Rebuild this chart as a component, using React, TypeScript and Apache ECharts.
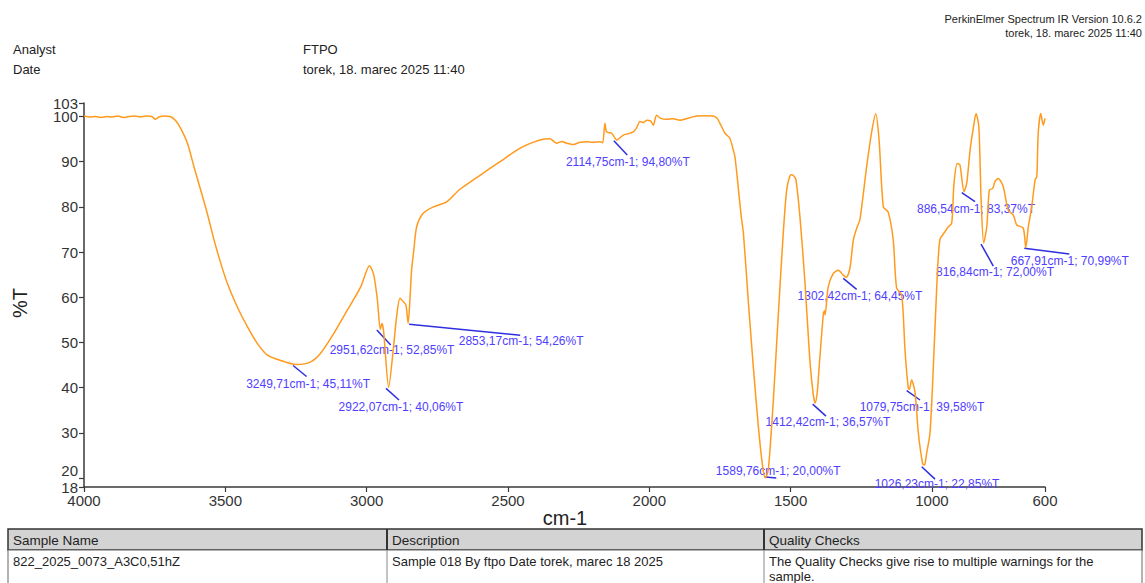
import React, { useEffect, useRef } from "react";
import * as echarts from "echarts";

// Spectrum: [wavenumber cm-1, %T]
const SPECTRUM: [number, number][] = [
  [4000, 100.1], [3980, 99.9], [3960, 100.0], [3940, 99.8], [3920, 100.0], [3900, 99.9],
  [3880, 100.1], [3860, 99.8], [3840, 100.0], [3820, 100.1], [3800, 99.9], [3780, 100.1],
  [3760, 100.0], [3748, 99.4], [3735, 99.9], [3715, 100.1], [3695, 100.0], [3676, 99.1],
  [3658, 97.4], [3634, 94.1], [3611, 88.9], [3587, 83.7], [3564, 78.6], [3540, 72.7],
  [3516, 67.5], [3493, 63.1], [3458, 57.9], [3422, 53.5], [3387, 49.8], [3351, 47.2],
  [3304, 46.0], [3249.71, 45.11], [3198, 45.7], [3163, 47.6], [3116, 52.0], [3068, 57.2],
  [3021, 62.3], [2990, 67.0], [2975, 65.0], [2962, 59.4], [2951.62, 52.85], [2946, 54.2],
  [2940, 52.5], [2922.07, 40.06], [2906, 48.3], [2894, 55.7], [2882, 59.8], [2870, 59.0],
  [2861, 58.3], [2853.17, 54.26], [2847, 59.4], [2841, 66.0], [2833, 70.5], [2823, 75.6],
  [2800, 78.6], [2764, 80.0], [2717, 81.1], [2670, 83.9], [2599, 87.0], [2528, 90.0],
  [2457, 93.0], [2387, 94.8], [2351, 95.1], [2340, 94.6], [2328, 94.1], [2310, 94.5],
  [2292, 94.1], [2269, 93.8], [2245, 94.3], [2222, 94.4], [2200, 94.3], [2174, 94.4],
  [2165, 94.2], [2157, 98.5], [2151, 96.6], [2133, 96.3], [2114.75, 94.8], [2092, 95.9],
  [2075, 96.2], [2057, 96.6], [2045, 97.5], [2033, 98.9], [2020, 98.7], [2009, 99.2],
  [1995, 99.0], [1986, 98.1], [1974, 100.3], [1960, 99.6], [1939, 99.4], [1915, 99.5],
  [1891, 99.2], [1860, 99.7], [1832, 100.1], [1800, 100.2], [1774, 100.1], [1760, 99.6],
  [1750, 98.5], [1732, 96.3], [1715, 95.2], [1703, 92.6], [1697, 91.1], [1688, 86.0],
  [1675, 78.0], [1667, 74.2], [1650, 59.4], [1632, 44.6], [1614, 31.3], [1599, 22.5],
  [1589.76, 20.0], [1580, 21.5], [1573, 26.2], [1561, 37.3], [1544, 55.7], [1526, 74.2],
  [1514, 83.7], [1503, 86.8], [1496, 87.1], [1488, 86.8], [1481, 86.0], [1467, 77.8],
  [1449, 63.1], [1432, 46.1], [1420, 38.5], [1412.42, 36.57], [1405, 39.5], [1399, 44.6],
  [1384, 56.4], [1380, 57.0], [1378, 56.1], [1367, 62.3], [1349, 65.3], [1331, 66.0],
  [1314, 64.9], [1302.42, 64.45], [1290, 66.5], [1278, 72.7], [1265, 75.5], [1255, 77.1],
  [1231, 88.9], [1214, 96.3], [1199, 100.6], [1187, 94.8], [1172, 80.0], [1155, 78.9],
  [1137, 72.7], [1125, 62.0], [1107, 60.5], [1095, 48.0], [1084, 40.0], [1079.75, 39.58],
  [1072, 41.7], [1060, 39.0], [1048, 29.9], [1033, 23.2], [1026.23, 22.85], [1019, 25.4],
  [1007, 29.9], [995, 44.6], [983, 62.3], [972, 72.7], [954, 74.5], [942, 75.6],
  [930, 76.4], [922, 85.2], [910, 89.6], [901, 89.3], [886.54, 83.37], [877, 85.2],
  [865, 92.6], [853, 97.7], [844, 100.7], [834, 97.7], [826, 81.5], [816.84, 72.0],
  [806, 75.6], [797, 83.7], [785, 84.1], [777, 85.6], [765, 86.3], [748, 84.5],
  [730, 79.3], [712, 78.2], [700, 76.0], [677, 75.3], [667.91, 70.99], [659, 75.6],
  [647, 80.0], [635, 86.0], [629, 86.7], [624, 96.3], [615, 100.7], [606, 98.1],
  [600, 99.6],
];

// Annotated peaks
const PEAK_WN = [3249.71, 2951.62, 2922.07, 2853.17, 2114.75, 1589.76, 1412.42, 1302.42, 1079.75, 1026.23, 886.54, 816.84, 667.91];
const PEAK_T = [45.11, 52.85, 40.06, 54.26, 94.8, 20.0, 36.57, 64.45, 39.58, 22.85, 83.37, 72.0, 70.99];

// Tick labels
const X_TICKS = [4000, 3500, 3000, 2500, 2000, 1500, 1000, 600];
const Y_TICKS_MAIN = [18, 30, 40, 50, 60, 70, 80, 90, 100];
const Y_TICKS_LOW = [20];
const Y_TICKS_TOP = [103];

// Header / table texts
const HEADER_LEFT = [["Analyst", "FTPO"], ["Date", "torek, 18. marec 2025 11:40"]];
const HEADER_RIGHT = ["PerkinElmer Spectrum IR Version 10.6.2", "torek, 18. marec 2025 11:40"];
const TABLE_HEAD = ["Sample Name", "Description", "Quality Checks"];
const TABLE_ROW = ["822_2025_0073_A3C0,51hZ", "Sample 018 By ftpo Date torek, marec 18 2025", "The Quality Checks give rise to multiple warnings for the\nsample."];

// Layout of annotation leader lines / labels, pixel offsets from the peak point
const ANNOT_LAYOUT: { l: number[]; t: number[] }[] = [
  { l: [-3, 1, 10.5, 12], t: [12, 19] },
  { l: [-3.5, 0.5, 10.4, 15.5], t: [11.7, 20.5] },
  { l: [-2.7, 1, 10.3, 12.7], t: [12.3, 19.7] },
  { l: [1, 1, 112, 12], t: [113, 18] },
  { l: [-3, 0.7, 10.4, 15], t: [11, 22] },
  { l: [0, -1, 11, 0], t: [13, -7] },
  { l: [-2.7, 1, 10.6, 13], t: [12.6, 19] },
  { l: [-3.2, 1.2, 10.2, 12.2], t: [13.5, 19] },
  { l: [-2.7, 1.2, 10.6, 10.5], t: [12.6, 17.5] },
  { l: [-2.8, 1.6, 10.5, 14], t: [12.5, 19] },
  { l: [-2.3, 1, 11, 10], t: [12, 17.3] },
  { l: [-2.7, 1, 9.6, 23], t: [11.3, 29] },
  { l: [-1.5, 0.7, 43.5, 6.4], t: [44, 13] },
];

const FONT = "Liberation Sans, Arial, sans-serif";
const AXIS_COLOR = "#3a3a3a";
const fmt = (v: number) => v.toFixed(2).replace(".", ",");

export default function App() {
  const ref = useRef<HTMLDivElement>(null);
  useEffect(() => {
    if (!ref.current) return;
    const chart = echarts.init(ref.current, undefined, { renderer: "svg" });

    const txt = (text: string, x: number, y: number, size: number, align = "left", color = "#222", weight = "normal") => ({
      type: "text",
      x,
      y,
      silent: true,
      style: {
        text,
        font: `${weight} ${size}px ${FONT}`,
        fill: color,
        align,
        verticalAlign: "middle",
        textAlign: align,
        textVerticalAlign: "middle",
        lineHeight: 15,
      },
    });

    const colX = [8, 387, 764, 1142];
    const graphics: any[] = [];
    HEADER_LEFT.forEach((row, i) => {
      graphics.push(txt(row[0], 13, 49 + i * 20, 13));
      graphics.push(txt(row[1], 303, 49 + i * 20, 13));
    });
    HEADER_RIGHT.forEach((t, i) => graphics.push(txt(t, 1142, 19 + i * 14, 11, "right")));
    graphics.push({ ...txt("%T", 20, 303, 20, "center", "#222"), rotation: Math.PI / 2 });
    graphics.push(txt("cm-1", 565, 518, 20, "center", "#222"));
    // table
    graphics.push({ type: "rect", shape: { x: 8, y: 529, width: 1134, height: 21 }, style: { fill: "#d3d3d3", stroke: "#333", lineWidth: 1.5 }, silent: true });
    graphics.push({ type: "rect", shape: { x: 8, y: 550, width: 1134, height: 40 }, style: { fill: "#fff", stroke: "#666", lineWidth: 1 }, silent: true });
    [1, 2].forEach((c) => {
      graphics.push({ type: "line", shape: { x1: colX[c], y1: 529, x2: colX[c], y2: 550 }, style: { stroke: "#333", lineWidth: 2 }, silent: true });
      graphics.push({ type: "line", shape: { x1: colX[c], y1: 550, x2: colX[c], y2: 590 }, style: { stroke: "#888", lineWidth: 1 }, silent: true });
    });
    TABLE_HEAD.forEach((t, i) => graphics.push(txt(t, colX[i] + 5, 540, 13.5, "left", "#222")));
    TABLE_ROW.forEach((t, i) => {
      const lines = t.split("\n");
      lines.forEach((ln, j) => graphics.push(txt(ln, colX[i] + 5, 561 + j * 15, 13, "left", "#222")));
    });

    const annotData = PEAK_WN.map((w, i) => [w, PEAK_T[i], i]);

    const yAxisDef = (ticks: number[], showLine: boolean, vAlign: string) => ({
      type: "value",
      min: 18,
      max: 103,
      position: "left",
      offset: 0,
      axisLine: { show: showLine, lineStyle: { color: AXIS_COLOR, width: 1.5 } },
      axisTick: { show: true, length: 5, customValues: ticks, lineStyle: { color: AXIS_COLOR, width: 1.2 } },
      axisLabel: {
        customValues: ticks,
        fontSize: 15,
        color: "#333",
        fontFamily: FONT,
        margin: 6,
        verticalAlign: vAlign,
        showMinLabel: true,
        showMaxLabel: true,
        hideOverlap: false,
        formatter: (v: number) => String(v),
      },
      splitLine: { show: false },
    });

    chart.setOption({
      animation: false,
      grid: { left: 84, right: 100, top: 103, bottom: 96, containLabel: false },
      xAxis: {
        type: "value",
        min: 600,
        max: 4000,
        inverse: true,
        axisLine: { show: true, lineStyle: { color: AXIS_COLOR, width: 1.5 } },
        axisTick: { show: true, length: 5, customValues: X_TICKS, lineStyle: { color: AXIS_COLOR, width: 1.2 } },
        axisLabel: {
          customValues: X_TICKS,
          fontSize: 15,
          color: "#333",
          fontFamily: FONT,
          margin: 6,
          showMinLabel: true,
          showMaxLabel: true,
          hideOverlap: false,
          formatter: (v: number) => String(v),
        },
        splitLine: { show: false },
      },
      yAxis: [
        yAxisDef(Y_TICKS_MAIN, true, "middle"),
        yAxisDef(Y_TICKS_LOW, false, "bottom"),
        yAxisDef(Y_TICKS_TOP, false, "middle"),
      ],
      graphic: { elements: graphics },
      series: [
        {
          type: "line",
          data: SPECTRUM,
          showSymbol: false,
          smooth: 0.25,
          lineStyle: { color: "#ff9a1c", width: 1.5 },
          silent: true,
        },
        {
          type: "custom",
          clip: false,
          silent: true,
          data: annotData,
          renderItem: (params: any, api: any) => {
            const p = api.coord([api.value(0), api.value(1)]);
            const idx = api.value(2);
            const L = ANNOT_LAYOUT[idx];
            return {
              type: "group",
              children: [
                {
                  type: "line",
                  shape: { x1: p[0] + L.l[0], y1: p[1] + L.l[1], x2: p[0] + L.l[2], y2: p[1] + L.l[3] },
                  style: { stroke: "#2f2fe0", lineWidth: 1.5 },
                },
                {
                  type: "text",
                  x: p[0] + L.t[0],
                  y: p[1] + L.t[1],
                  style: {
                    text: `${fmt(PEAK_WN[idx])}cm-1; ${fmt(PEAK_T[idx])}%T`,
                    fill: "#4f40ff",
                    font: `12px ${FONT}`,
                    align: "center",
                    verticalAlign: "middle",
                    textAlign: "center",
                    textVerticalAlign: "middle",
                  },
                },
              ],
            };
          },
        },
      ],
    });
    return () => chart.dispose();
  }, []);
  return <div ref={ref} style={{ position: "fixed", left: 0, top: 0, width: 1145, height: 583, background: "#fff" }} />;
}
